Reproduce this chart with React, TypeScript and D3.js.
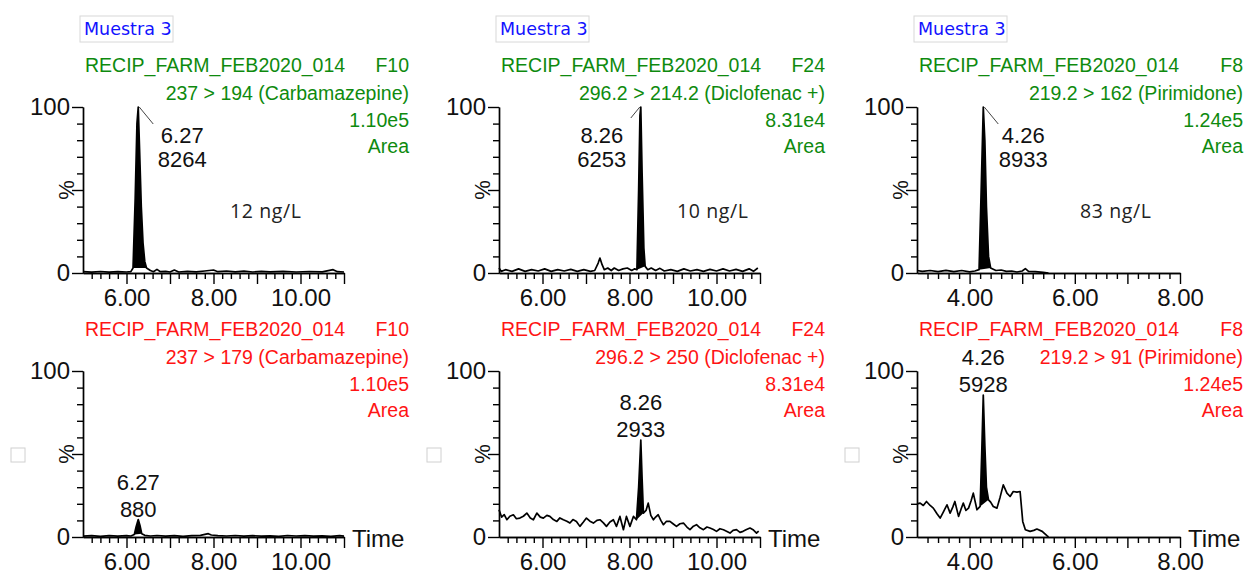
import { useEffect, useRef } from "react";
import * as d3 from "d3";

type Pt = [number, number];

// ---- data ----
const sampleName = "Muestra 3";
const runName = "RECIP_FARM_FEB2020_014";
const functionIds = ["F10", "F24", "F8"];
const quanTransitions = ["237 > 194 (Carbamazepine)", "296.2 > 214.2 (Diclofenac +)", "219.2 > 162 (Pirimidone)"];
const qualTransitions = ["237 > 179 (Carbamazepine)", "296.2 > 250 (Diclofenac +)", "219.2 > 91 (Pirimidone)"];
const intensityLabels = ["1.10e5", "8.31e4", "1.24e5"];
const concentrations = ["12 ng/L", "10 ng/L", "83 ng/L"];
const timeDomains: Pt[] = [[5, 11], [5, 11], [3, 8]];
const labeledTimes = [[6, 8, 10], [6, 8, 10], [4, 6, 8]];
const yLabeled = [0, 100];
const retentionTimes = [6.27, 8.26, 4.26];
const quanAreas = [8264, 6253, 8933];
const qualAreas = [880, 2933, 5928];
const quanFill: Pt[] = [[6.15, 6.46], [8.17, 8.36], [4.18, 4.4]];
const qualFill: Pt[] = [[6.18, 6.35], [8.16, 8.32], [4.2, 4.36]];

const carbaQuan: Pt[] = [
  [5.0, 0.8], [5.2, 0.5], [5.4, 0.9], [5.6, 0.5], [5.8, 0.8], [6.0, 0.6], [6.1, 0.8], [6.15, 3],
  [6.2, 45], [6.24, 90], [6.27, 100], [6.3, 75], [6.34, 40], [6.38, 18], [6.42, 7], [6.46, 3],
  [6.55, 1.5], [6.62, 0.8], [6.7, 2.2], [6.78, 0.8], [6.9, 1], [7.0, 0.6], [7.1, 1.8], [7.2, 0.6],
  [7.4, 1], [7.6, 0.7], [7.8, 1.2], [8.0, 1.8], [8.1, 0.8], [8.3, 1.2], [8.5, 0.7], [8.7, 1.1],
  [8.9, 0.6], [9.1, 1], [9.3, 0.7], [9.6, 1], [9.9, 0.6], [10.2, 0.9], [10.5, 0.7], [10.75, 2],
  [10.85, 0.8], [11.0, 0.6],
];
const dicloQuan: Pt[] = [
  [5.0, 3], [5.05, 1], [5.15, 2], [5.3, 1], [5.45, 2.5], [5.6, 1], [5.75, 2], [5.9, 1.2], [6.05, 2.5],
  [6.2, 1], [6.35, 2], [6.5, 1.2], [6.65, 2.2], [6.8, 1], [6.95, 2], [7.1, 1], [7.2, 1.5], [7.28, 6],
  [7.32, 9], [7.37, 5], [7.42, 2], [7.5, 3], [7.58, 1.5], [7.65, 3], [7.75, 1.5], [7.85, 2.5], [7.95, 3],
  [8.05, 1.5], [8.12, 2.5], [8.17, 2], [8.21, 50], [8.24, 95], [8.26, 100], [8.29, 60], [8.33, 15],
  [8.36, 4], [8.42, 2], [8.5, 3], [8.6, 1.5], [8.7, 2.8], [8.8, 1.2], [8.95, 2], [9.1, 1], [9.25, 2.5],
  [9.4, 1.2], [9.55, 2], [9.7, 1], [9.85, 2.2], [10.0, 1.2], [10.15, 2.5], [10.3, 1.2], [10.45, 2.2],
  [10.6, 1], [10.75, 2.5], [10.85, 1], [10.95, 3],
];
const pirimQuan: Pt[] = [
  [3.0, 1.5], [3.1, 1], [3.25, 1.5], [3.4, 0.8], [3.55, 1.6], [3.7, 0.8], [3.85, 1.5], [4.0, 0.7],
  [4.1, 1.2], [4.18, 2], [4.22, 50], [4.26, 100], [4.29, 80], [4.32, 40], [4.36, 10], [4.4, 3],
  [4.5, 1.5], [4.6, 1.8], [4.7, 1], [4.8, 1.2], [4.9, 0.6], [5.0, 1.2], [5.06, 2.6], [5.12, 1],
  [5.25, 0.8], [5.4, 0.4], [5.5, 0],
];
const carbaQual: Pt[] = [
  [5.0, 0.5], [5.2, 0.8], [5.4, 0.4], [5.6, 0.8], [5.8, 0.5], [6.0, 0.8], [6.1, 0.6], [6.18, 1.5],
  [6.22, 6], [6.27, 10.5], [6.31, 7], [6.35, 2], [6.42, 1], [6.55, 0.6], [6.7, 0.9], [6.9, 0.5],
  [7.1, 0.8], [7.3, 0.4], [7.5, 0.8], [7.7, 1], [7.88, 2], [7.95, 1.2], [8.1, 0.8], [8.3, 0.6],
  [8.5, 0.9], [8.7, 0.5], [8.9, 0.8], [9.1, 0.5], [9.3, 0.7], [9.5, 0.4], [9.7, 0.9], [9.9, 0.6],
  [10.1, 0.8], [10.3, 0.5], [10.5, 0.7], [10.7, 0.4], [10.9, 0.8], [11.0, 0.5],
];
const dicloQual: Pt[] = [
  [5.0, 16.4], [5.06, 12], [5.12, 13.5], [5.18, 10.4], [5.25, 12.5], [5.33, 13.4], [5.4, 11], [5.48, 11.4],
  [5.56, 12.5], [5.64, 14.4], [5.72, 11.5], [5.79, 10.4], [5.87, 14.4], [5.95, 12], [6.02, 11.4], [6.1, 13],
  [6.17, 12.4], [6.25, 10.5], [6.33, 9.4], [6.4, 11.5], [6.48, 10.4], [6.56, 9.5], [6.63, 8.4], [6.7, 10.5],
  [6.78, 9.4], [6.86, 6.4], [6.94, 9], [7.01, 11.4], [7.09, 9.5], [7.17, 8.4], [7.25, 10], [7.32, 10.4],
  [7.4, 8.5], [7.47, 6.4], [7.55, 9], [7.63, 10.4], [7.7, 6.4], [7.78, 12.4], [7.86, 4.4], [7.93, 12.4],
  [8.01, 6.4], [8.09, 12.4], [8.16, 10.4], [8.21, 30], [8.26, 58.4], [8.29, 35], [8.32, 14.4], [8.38, 16],
  [8.43, 20.4], [8.49, 13], [8.55, 10.4], [8.6, 12], [8.66, 13.4], [8.72, 10], [8.78, 7.4], [8.85, 9.5],
  [8.93, 9.4], [9.0, 8], [9.08, 6.4], [9.16, 8], [9.24, 8.4], [9.32, 6], [9.39, 4.4], [9.47, 6.5],
  [9.54, 7.4], [9.62, 5.5], [9.7, 4.4], [9.78, 6], [9.85, 5.4], [9.93, 4.5], [10.0, 3.4], [10.08, 5],
  [10.16, 4.4], [10.23, 3.5], [10.31, 2.4], [10.38, 4], [10.46, 4.4], [10.54, 2.8], [10.61, 3.4],
  [10.69, 4.5], [10.77, 5.4], [10.84, 4.4], [10.92, 2.4], [10.97, 3.5],
];
const pirimQual: Pt[] = [
  [3.0, 20], [3.06, 20.4], [3.12, 19], [3.18, 21.4], [3.25, 19], [3.31, 17.4], [3.38, 14], [3.44, 11.4],
  [3.5, 15], [3.57, 19.4], [3.63, 14.4], [3.68, 18], [3.72, 21.4], [3.79, 12.4], [3.84, 17], [3.88, 20.4],
  [3.93, 16], [3.98, 17.4], [4.03, 22], [4.07, 26.4], [4.14, 16.4], [4.2, 18.4], [4.23, 50], [4.26, 85.5],
  [4.29, 55], [4.32, 30], [4.36, 22.4], [4.4, 21], [4.45, 18.4], [4.52, 17.4], [4.58, 24], [4.64, 31.4],
  [4.71, 26.4], [4.77, 24.4], [4.83, 27.4], [4.9, 27], [4.96, 27.4], [5.01, 9.4], [5.06, 4.4], [5.15, 3.4],
  [5.22, 4], [5.28, 4.8], [5.38, 3.4], [5.47, 0.8], [5.5, 0],
];

const quanTraces = [carbaQuan, dicloQuan, pirimQuan];
const qualTraces = [carbaQual, dicloQual, pirimQual];

// ---- layout ----
const colX = [83, 499, 917];
const colW = [261, 261, 263];
const rowTop = [107, 371];
const plotH = 166;
const concDx = [147, 178, 163];
const FONT = "'Liberation Sans', Arial, sans-serif";
const GREEN = "#0e8a0e";
const RED = "#ff1414";

export default function App() {
  const ref = useRef<SVGSVGElement>(null);

  useEffect(() => {
    const svg = d3.select(ref.current);
    svg.selectAll("*").remove();

    const drawPanel = (c: number, r: number) => {
      const top = rowTop[r];
      const x0 = colX[c];
      const color = r === 0 ? GREEN : RED;
      const trace = r === 0 ? quanTraces[c] : qualTraces[c];
      const fillWin = r === 0 ? quanFill[c] : qualFill[c];
      const area = r === 0 ? quanAreas[c] : qualAreas[c];

      const x = d3.scaleLinear().domain(timeDomains[c]).range([x0, x0 + colW[c]]);
      const y = d3.scaleLinear().domain([0, 100]).range([top + plotH, top]);
      const g = svg.append("g");

      // y axis
      g.append("g")
        .attr("transform", `translate(${x0},0)`)
        .call(d3.axisLeft(y).tickValues(d3.range(10, 100, 10).filter((v) => v !== 50)).tickSize(6).tickSizeOuter(0).tickFormat(() => ""));
      g.append("g")
        .attr("transform", `translate(${x0},0)`)
        .call(
          d3.axisLeft(y).tickValues([0, 50, 100]).tickSize(11).tickSizeOuter(0).tickPadding(2)
            .tickFormat((d) => (yLabeled.includes(+d) ? String(d) : ""))
        );

      // x axis
      const [t0, t1] = timeDomains[c];
      const minor = d3.range(t0, t1 + 1e-6, 0.2).filter((v) => Math.abs(v - Math.round(v)) > 1e-6);
      const major = d3.range(Math.ceil(t0), t1 + 1e-6, 1).filter((v) => v > t0 + 1e-6);
      g.append("g")
        .attr("transform", `translate(0,${top + plotH})`)
        .call(d3.axisBottom(x).tickValues(minor).tickSize(6).tickSizeOuter(0).tickFormat(() => ""));
      g.append("g")
        .attr("transform", `translate(0,${top + plotH})`)
        .call(
          d3.axisBottom(x).tickValues(major).tickSize(11).tickSizeOuter(0).tickPadding(5)
            .tickFormat((d) => (labeledTimes[c].includes(+d) ? (+d).toFixed(2) : ""))
        );

      g.selectAll(".domain, .tick line").attr("stroke", "#000").attr("stroke-width", 1.4);
      g.selectAll(".tick text").attr("font-family", FONT).attr("font-size", 24).attr("fill", "#111");

      // % label
      g.append("text")
        .attr("transform", `translate(${x0 - 17},${y(50)}) rotate(-90)`)
        .attr("text-anchor", "middle")
        .attr("dominant-baseline", "central")
        .attr("font-family", FONT)
        .attr("font-size", 22)
        .attr("fill", "#111")
        .text("%");

      // trace + integrated peak
      const line = d3.line<Pt>().x((d) => x(d[0])).y((d) => y(d[1]));
      const inPeak = trace.filter((d) => d[0] >= fillWin[0] - 1e-6 && d[0] <= fillWin[1] + 1e-6);
      g.append("path").attr("d", line(inPeak) + "Z").attr("fill", "#000");
      g.append("path")
        .attr("d", line(trace))
        .attr("fill", "none")
        .attr("stroke", "#000")
        .attr("stroke-width", 1.7)
        .attr("stroke-linejoin", "round");

      // peak labels
      const apex = inPeak.reduce((a, b) => (b[1] > a[1] ? b : a));
      const px = x(retentionTimes[c]);
      const py = y(apex[1]);
      const lbl = (tx: number, ty: number, s: string) =>
        g.append("text").attr("x", tx).attr("y", ty).attr("text-anchor", "middle")
          .attr("font-family", FONT).attr("font-size", 22).attr("fill", "#111").text(s);
      if (r === 0) {
        const dir = c === 1 ? -1 : 1;
        const cx = c === 1 ? px - 39 : px + (c === 0 ? 44 : 40);
        g.append("line")
          .attr("x1", px + dir).attr("y1", py)
          .attr("x2", px + dir * (c === 1 ? 10 : 15)).attr("y2", py + (c === 1 ? 11 : 17))
          .attr("stroke", "#444").attr("stroke-width", 1);
        lbl(cx, py + 36, retentionTimes[c].toFixed(2));
        lbl(cx, py + 60, String(area));
      } else {
        lbl(px, py - 30, retentionTimes[c].toFixed(2));
        lbl(px, py - 3, String(area));
      }

      // header
      const hx = x0 + 326;
      const head = (tx: number, ty: number, s: string, anchor: string) =>
        g.append("text").attr("x", tx).attr("y", ty).attr("text-anchor", anchor)
          .attr("font-family", FONT).attr("font-size", 19.5).attr("fill", color).text(s);
      head(x0 + 2, top - 35, runName, "start");
      head(hx, top - 35, functionIds[c], "end");
      head(hx, top - 7, r === 0 ? quanTransitions[c] : qualTransitions[c], "end");
      head(hx, top + 20, intensityLabels[c], "end");
      head(hx, top + 46, "Area", "end");

      if (r === 0) {
        g.append("rect").attr("x", x0 - 3).attr("y", 16).attr("width", 93).attr("height", 26)
          .attr("fill", "#fff").attr("stroke", "#d8d8d8");
        g.append("text").attr("x", x0 + 1).attr("y", 35)
          .attr("font-family", "'DejaVu Sans', sans-serif").attr("font-size", 17.5)
          .attr("fill", "#1212ff").text(sampleName);
        g.append("text").attr("x", x0 + concDx[c]).attr("y", 218)
          .attr("font-family", "'Open Sans', sans-serif").attr("font-size", 19.5)
          .attr("letter-spacing", 0.6).attr("fill", "#222").text(concentrations[c]);
      } else {
        g.append("rect").attr("x", x0 - 72).attr("y", 448).attr("width", 14).attr("height", 14)
          .attr("fill", "none").attr("stroke", "#d0d0d0");
        g.append("text").attr("x", x0 + colW[c] + 8).attr("y", top + plotH + 10)
          .attr("font-family", FONT).attr("font-size", 24).attr("fill", "#111").text("Time");
      }
    };

    for (let r = 0; r < 2; r++) for (let c = 0; c < 3; c++) drawPanel(c, r);
  }, []);

  return (
    <div style={{ position: "absolute", left: 0, top: 0 }}>
      <svg ref={ref} width={1250} height={574} style={{ display: "block", background: "#fff" }} />
    </div>
  );
}
